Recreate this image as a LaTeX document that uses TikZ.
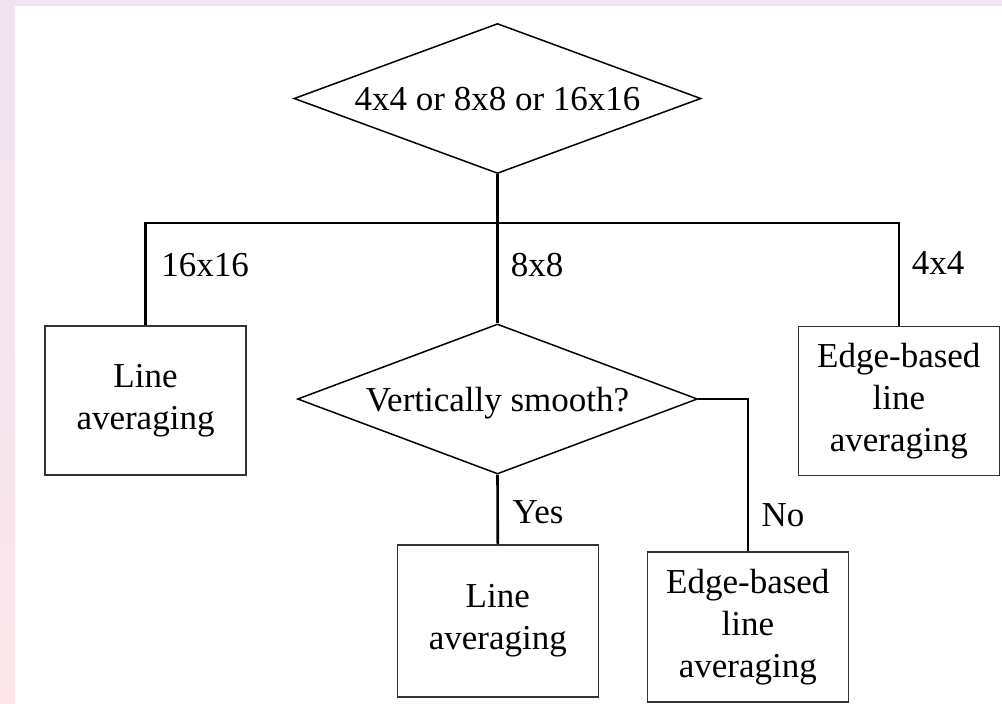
\documentclass[tikz,border=0pt]{standalone}
\usepackage{fontspec}
\setmainfont{Liberation Serif}
\usetikzlibrary{shapes.geometric}
\definecolor{bgtop}{HTML}{F0E4EF}
\definecolor{bgbot}{HTML}{FBE5EB}
\begin{document}
\begin{tikzpicture}[x=1pt,y=-1pt,
  every node/.style={font=\fontsize{35}{42}\selectfont},
  decision/.style={diamond, draw=black, line width=1.5pt, inner sep=0pt,
    minimum width=#1, minimum height=150pt, aspect=2.7, text depth=0pt},
  procbox/.style={rectangle, draw=black!80, line width=1.6pt, align=center,
    minimum width=201pt, minimum height=150pt, inner sep=0pt},
  conn/.style={line width=2.6pt, draw=black},
  lbl/.style={inner sep=0pt}]
\useasboundingbox (0,0) rectangle (1002,704);
\fill[white] (0,0) rectangle (1002,704);
\fill[bgtop] (0,0) rectangle (1002,6);
\shade[top color=bgtop, bottom color=bgbot] (0,0) rectangle (15,704);

\node[decision=407pt] (d1) at (497.5,98.5) {4x4 or 8x8 or 16x16};
\node[decision=400pt] (d2) at (497.5,399) {Vertically smooth?};
\node[procbox, minimum height=149pt] (b1) at (145.5,400.5) {Line\\averaging};
\node[procbox, minimum height=149pt] (b2) at (898.8,401) {Edge-based\\line\\averaging};
\node[procbox, minimum height=152pt] (b3) at (497.8,620.8) {Line\\averaging};
\node[procbox] (b4) at (747.8,626.7) {Edge-based\\line\\averaging};

\coordinate (j) at (497.5,223);
\draw[conn] (d1.south) -- (j);
\draw[conn] (j) -| (b1.north);
\draw[conn] (j) -| (b2.north);
\draw[conn] (j) -- (d2.north);
\draw[conn] (d2.south) -- (b3.north);
\draw[conn] (d2.east) -| (b4.north);

\node[lbl] (l16) at (205,265) {16x16};
\node[lbl] (l8) at (537,265) {8x8};
\node[lbl] (l4) at (938,263) {4x4};
\node[lbl] (ly) at (538,512) {Yes};
\node[lbl] (ln) at (783,515) {No};
\end{tikzpicture}
\end{document}
